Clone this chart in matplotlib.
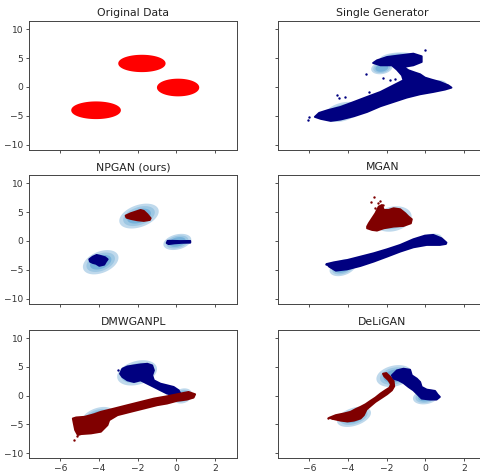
import numpy as np
import matplotlib
matplotlib.use('Agg')
import matplotlib.pyplot as plt

# ---------------- data ----------------
titles = ["Original Data", "Single Generator", "NPGAN (ours)", "MGAN", "DMWGANPL", "DeLiGAN"]
x_ticks = [-6, -4, -2, 0, 2]
y_ticks = [-10, -5, 0, 5, 10]

# Original data: three gaussian clusters
orig_cx = [-4.15, -1.78, 0.09]
orig_cy = [-4.05, 4.08, -0.10]
orig_hx = [1.24, 1.18, 1.05]
orig_hy = [1.39, 1.36, 1.39]

# Single Generator
sg_x = [-5.71, -5.40, -4.89, -4.38, -3.69, -3.01, -2.32, -1.64, -0.96, -0.27, 0.41, 1.01, 1.35, 1.18, 0.75,
        0.32, -0.02, -0.27, -0.53, -0.87, -1.13, -0.62, -0.19, -0.19, -0.62, -1.30, -1.98, -2.50, -2.70,
        -2.32, -1.73, -1.47, -1.21, -1.13, -1.64, -2.32, -3.01, -3.69, -4.38, -5.06, -5.49]
sg_y = [-5.20, -5.55, -5.90, -5.66, -5.09, -4.34, -3.35, -2.60, -1.85, -1.27, -0.87, -0.46, -0.12, 0.29, 0.87,
        1.27, 1.62, 2.20, 2.49, 2.89, 3.47, 3.76, 4.34, 5.32, 5.78, 5.49, 5.20, 4.62, 4.16,
        3.76, 3.76, 3.01, 2.02, 1.16, 0.29, -0.87, -1.73, -2.60, -3.47, -4.05, -4.51]
sg_ox = [-6.09, -6.03, -0.02, -3.09, -2.19, -1.81, -1.56, -2.92, -2.50, -4.55, -4.46, -4.17]
sg_oy = [-5.66, -5.20, 6.47, 2.20, 1.56, 1.27, 1.33, -0.92, -1.45, -1.33, -1.85, -1.73]
sg_e_cx = [-1.40, -2.25, -4.29, 0.55]
sg_e_cy = [5.00, 3.30, -4.34, 0.30]
sg_e_sx = [0.95, 0.55, 0.92, 0.55]
sg_e_sy = [1.00, 1.10, 1.75, 0.90]
sg_e_rho = [0.15, 0.2, 0.35, 0.2]

# NPGAN (ours)
np_red_x = [-2.62, -2.36, -2.10, -1.85, -1.68, -1.50, -1.33, -1.37, -1.68, -2.02, -2.36, -2.58]
np_red_y = [4.38, 4.79, 5.07, 5.36, 5.19, 4.62, 3.93, 3.63, 3.46, 3.58, 3.81, 4.03]
np_b1_x = [-4.50, -4.32, -4.12, -3.90, -3.68, -3.55, -3.64, -3.73, -3.98, -4.15, -4.32, -4.46]
np_b1_y = [-3.17, -2.72, -2.42, -2.60, -2.82, -3.17, -3.58, -4.10, -4.30, -3.95, -3.80, -3.58]
np_b2_x = [-0.50, -0.45, -0.20, 0.20, 0.72, 0.72, 0.30, -0.10, -0.40]
np_b2_y = [-0.35, 0.02, 0.02, -0.02, 0.00, -0.30, -0.32, -0.42, -0.55]
np_e_cx = [-1.93, -3.91, 0.05]
np_e_cy = [4.30, -3.68, -0.17]
np_e_sx = [1.02, 0.92, 0.72]
np_e_sy = [2.15, 2.10, 1.40]
np_e_rho = [0.38, 0.38, 0.3]

# MGAN
mg_red_x = [-3.01, -2.92, -2.75, -2.58, -2.41, -2.24, -2.15, -1.90, -1.64, -1.30, -1.04, -0.87, -0.70,
            -0.75, -1.13, -1.64, -2.15, -2.50, -2.75, -3.01]
mg_red_y = [2.48, 3.05, 3.92, 4.78, 5.94, 6.22, 5.36, 5.36, 5.65, 5.48, 4.78, 4.21, 3.75,
            3.05, 2.59, 2.48, 2.19, 1.79, 1.90, 2.19]
mg_red_ox = [-2.63, -2.80, -2.46, -2.32, -2.19, -2.58]
mg_red_oy = [7.55, 6.74, 6.63, 6.97, 6.22, 5.65]
mg_blue_x = [-4.97, -4.63, -4.03, -3.35, -2.67, -1.98, -1.30, -0.62, 0.07, 0.75, 1.06, 1.09, 0.84, 0.41,
             -0.02, -0.62, -1.30, -1.98, -2.67, -3.35, -4.03, -4.72, -5.09]
mg_blue_y = [-4.44, -5.13, -4.90, -4.32, -3.57, -2.71, -1.84, -1.10, -0.69, -0.69, -0.52, -0.29, 0.46, 1.04,
             0.92, 0.29, -0.69, -1.44, -2.13, -2.71, -3.29, -3.69, -3.98]
mg_blue_ox = [-5.15]
mg_blue_oy = [-4.03]
mg_e_cx = [-1.69, -4.27, 0.27]
mg_e_cy = [3.80, -4.61, 0.29]
mg_e_sx = [0.98, 0.68, 0.58]
mg_e_sy = [2.20, 1.48, 0.98]
mg_e_rho = [0.2, 0.35, 0.3]

# DMWGANPL
dm_blue_x = [-2.91, -2.79, -2.53, -2.19, -1.85, -1.50, -1.25, -1.16, -1.25, -1.16, -0.82, -0.48, -0.14,
             0.12, 0.21, -0.14, -0.48, -0.82, -1.16, -1.50, -1.85, -2.19, -2.53, -2.79]
dm_blue_y = [3.80, 4.67, 5.07, 5.25, 5.42, 5.53, 5.25, 4.38, 3.52, 2.65, 2.07, 1.79, 1.50,
             0.92, 0.35, 0.06, 0.35, 0.92, 1.50, 2.07, 2.65, 2.36, 2.65, 3.23]
dm_blue_ox = [-3.01]
dm_blue_oy = [4.38]
dm_red_x = [-5.35, -5.18, -4.75, -4.24, -3.90, -3.21, -2.53, -1.85, -1.16, -0.48, 0.21, 0.63, 0.97, 0.89,
            0.55, 0.03, -0.48, -0.99, -1.68, -2.36, -3.04, -3.47, -3.56, -3.90, -4.41, -4.92, -5.09,
            -5.23, -5.30]
dm_red_y = [-3.98, -3.80, -3.69, -3.23, -2.82, -2.25, -1.67, -1.10, -0.52, -0.12, 0.35, 0.63, 0.23, -0.35,
            -0.69, -0.92, -1.38, -1.67, -2.25, -2.82, -3.40, -4.27, -5.13, -6.28, -6.57, -6.69, -6.86,
            -5.99, -4.84]
dm_red_ox = [-5.30, -5.13]
dm_red_oy = [-7.72, -7.03]
dm_e_cx = [-2.03, 0.32, -4.07]
dm_e_cy = [3.95, -0.06, -3.69]
dm_e_sx = [1.03, 0.50, 0.82]
dm_e_sy = [2.20, 1.32, 1.72]
dm_e_rho = [0.3, 0.2, 0.4]

# DeLiGAN
dl_red_x = [-4.97, -4.63, -4.21, -3.86, -3.61, -3.35, -3.09, -2.84, -2.58, -2.32, -2.07, -1.85, -1.78,
            -1.90, -2.12, -2.19, -2.02, -1.81, -1.64, -1.61, -1.73, -1.98, -2.24, -2.58, -2.84, -3.04,
            -3.18, -3.35, -3.69, -4.03, -4.38, -4.72]
dl_red_y = [-3.86, -3.40, -3.11, -2.82, -2.36, -1.96, -1.50, -0.92, -0.35, 0.35, 0.92, 1.38, 1.96,
            2.65, 3.34, 3.80, 3.92, 3.23, 2.54, 1.61, 0.92, 0.23, -0.35, -1.10, -1.84, -2.42,
            -3.40, -3.98, -4.35, -4.50, -4.35, -4.10]
dl_red_ox = [-5.03, -4.80]
dl_red_oy = [-3.92, -3.85]
dl_blue_x = [-1.73, -1.47, -1.13, -0.79, -0.70, -0.44, -0.27, -0.19, 0.07, 0.50, 0.62, 0.75, 0.58, 0.24,
             -0.19, -0.36, -0.62, -0.87, -1.13, -1.38, -1.64]
dl_blue_y = [3.52, 4.38, 4.67, 4.49, 3.52, 2.94, 2.36, 1.50, 1.04, 0.81, 0.23, -0.23, -0.69, -0.69,
             -0.52, 0.06, 0.92, 1.50, 2.19, 2.65, 2.94]
dl_e_cx = [-1.61, 0.02, -3.69]
dl_e_cy = [3.40, -0.23, -3.69]
dl_e_sx = [0.92, 0.66, 0.88]
dl_e_sy = [1.90, 1.30, 1.76]
dl_e_rho = [0.25, 0.2, 0.4]

# ---------------- styling ----------------
RED = '#ff0000'
NAVY = '#000080'
DRED = '#800000'
LEVEL_SCALES = [1.0, 0.8, 0.6]
LEVEL_COLORS = ['#bfd9ec', '#9dc7e3', '#76b1da']

plt.rcParams['font.family'] = 'DejaVu Sans'
fig = plt.figure(figsize=(4.81, 4.73), dpi=100)

W, H = 481.0, 473.0
col_left = [29.3, 278.3]
ax_w = 208.0
rows = [(21.3, 149.7), (175.0, 304.0), (330.0, 458.3)]

axes = []
for r, (top, bot) in enumerate(rows):
    for c in range(2):
        ax = fig.add_axes([col_left[c] / W, 1 - bot / H, ax_w / W, (bot - top) / H])
        axes.append(ax)

t = np.linspace(0, 2 * np.pi, 120)


def gauss_contours(ax, cx, cy, sx, sy, rho):
    for scale, col in zip(LEVEL_SCALES, LEVEL_COLORS):
        for x0, y0, a, b, p in zip(cx, cy, sx, sy, rho):
            ex = x0 + scale * a * np.cos(t)
            ey = y0 + scale * b * (p * np.cos(t) + np.sqrt(1 - p * p) * np.sin(t))
            ax.fill(ex, ey, color=col, lw=0, zorder=1)


def blob(ax, xs, ys, col):
    ax.fill(xs, ys, facecolor=col, edgecolor=col, lw=1.4, joinstyle='round', zorder=2)


def dots(ax, xs, ys, col):
    ax.scatter(xs, ys, s=3, color=col, lw=0, zorder=3)


# Original
ax = axes[0]
for x0, y0, a, b in zip(orig_cx, orig_cy, orig_hx, orig_hy):
    ax.fill(x0 + a * np.cos(t), y0 + b * np.sin(t), facecolor=RED, edgecolor=RED, lw=1.2, zorder=2)

# Single generator
ax = axes[1]
gauss_contours(ax, sg_e_cx, sg_e_cy, sg_e_sx, sg_e_sy, sg_e_rho)
blob(ax, sg_x, sg_y, NAVY)
dots(ax, sg_ox, sg_oy, NAVY)

# NPGAN
ax = axes[2]
gauss_contours(ax, np_e_cx, np_e_cy, np_e_sx, np_e_sy, np_e_rho)
blob(ax, np_red_x, np_red_y, DRED)
blob(ax, np_b1_x, np_b1_y, NAVY)
blob(ax, np_b2_x, np_b2_y, NAVY)

# MGAN
ax = axes[3]
gauss_contours(ax, mg_e_cx, mg_e_cy, mg_e_sx, mg_e_sy, mg_e_rho)
blob(ax, mg_red_x, mg_red_y, DRED)
dots(ax, mg_red_ox, mg_red_oy, DRED)
blob(ax, mg_blue_x, mg_blue_y, NAVY)
dots(ax, mg_blue_ox, mg_blue_oy, NAVY)

# DMWGANPL
ax = axes[4]
gauss_contours(ax, dm_e_cx, dm_e_cy, dm_e_sx, dm_e_sy, dm_e_rho)
blob(ax, dm_blue_x, dm_blue_y, NAVY)
dots(ax, dm_blue_ox, dm_blue_oy, NAVY)
blob(ax, dm_red_x, dm_red_y, DRED)
dots(ax, dm_red_ox, dm_red_oy, DRED)

# DeLiGAN
ax = axes[5]
gauss_contours(ax, dl_e_cx, dl_e_cy, dl_e_sx, dl_e_sy, dl_e_rho)
blob(ax, dl_red_x, dl_red_y, DRED)
dots(ax, dl_red_ox, dl_red_oy, DRED)
blob(ax, dl_blue_x, dl_blue_y, NAVY)

for i, ax in enumerate(axes):
    ax.set_xlim(-7.6, 3.15)
    ax.set_ylim(-10.9, 11.4)
    ax.set_xticks(x_ticks)
    ax.set_yticks(y_ticks)
    ax.set_title(titles[i], fontsize=7.8, pad=3.5, color='#222222')
    ax.tick_params(labelsize=6.6, length=2.4, width=0.6, pad=1.8, colors='#333333')
    for s in ax.spines.values():
        s.set_linewidth(0.7)
        s.set_color('#444444')
    if i % 2 == 1:
        ax.tick_params(labelleft=False)
    if i < 4:
        ax.tick_params(labelbottom=False)

fig.savefig('out.png', dpi=100)
